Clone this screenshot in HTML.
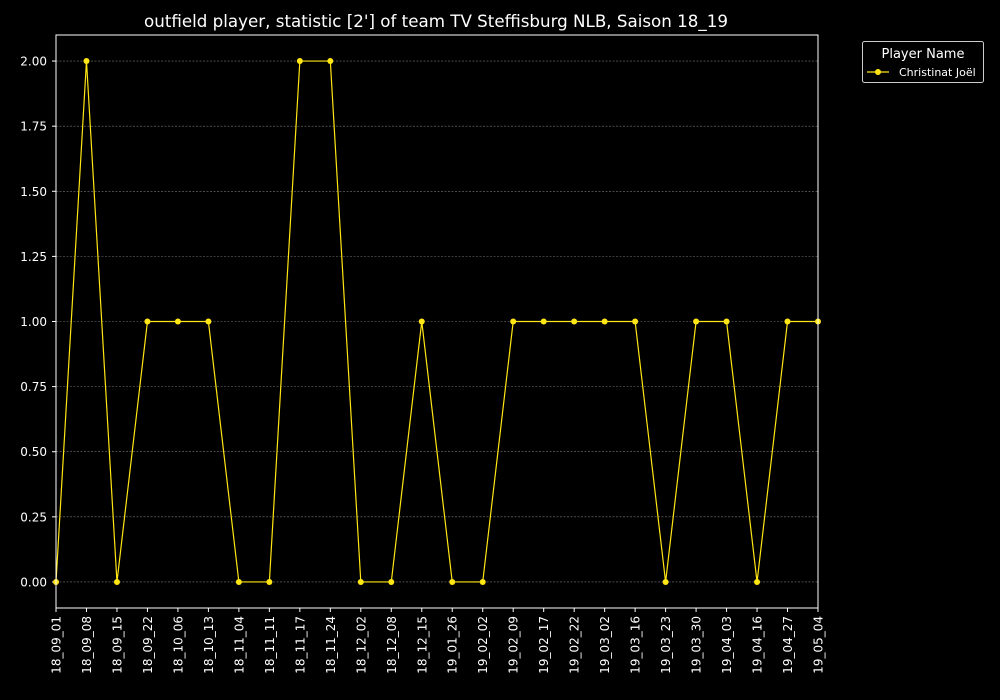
<!DOCTYPE html>
<html><head><meta charset="utf-8"><style>
html,body{margin:0;padding:0;background:#000;}
svg{display:block;font-family:"DejaVu Sans","Liberation Sans",sans-serif;}
</style></head><body>
<svg id="chart" width="1000" height="700">
<rect width="1000" height="700" fill="#000"/>
<text x="436" y="27" fill="#fff" font-size="16.7" text-anchor="middle">outfield player, statistic [2'] of team TV Steffisburg NLB, Saison 18_19</text>
<g id="grid"></g>
<g id="axes"></g>
<g id="series"></g>
<rect x="56" y="35" width="762" height="573" fill="none" stroke="#fff" stroke-width="1"/>
<g>
<rect x="862.5" y="41.5" width="121" height="41" rx="2" fill="#000" stroke="#ccc"/>
<text x="923" y="58" fill="#fff" font-size="13" text-anchor="middle">Player Name</text>
<line x1="867" y1="72" x2="889" y2="72" stroke="#ffe614" stroke-width="1.2"/>
<circle cx="878" cy="72" r="3" fill="#ffe614"/>
<text x="899" y="76" fill="#fff" font-size="11">Christinat Joël</text>
</g>
</svg>
<script>
const categories=["18_09_01","18_09_08","18_09_15","18_09_22","18_10_06","18_10_13","18_11_04","18_11_11","18_11_17","18_11_24","18_12_02","18_12_08","18_12_15","19_01_26","19_02_02","19_02_09","19_02_17","19_02_22","19_03_02","19_03_16","19_03_23","19_03_30","19_04_03","19_04_16","19_04_27","19_05_04"];
const values=[0,2,0,1,1,1,0,0,2,2,0,0,1,0,0,1,1,1,1,1,0,1,1,0,1,1];
const yTicks=[0,0.25,0.5,0.75,1,1.25,1.5,1.75,2];
const yTickLabels=["0.00","0.25","0.50","0.75","1.00","1.25","1.50","1.75","2.00"];
const NS="http://www.w3.org/2000/svg";
const L=56,R=818,T=35,B=608,ymin=-0.1,ymax=2.1;
const x=i=>L+(R-L)*i/(categories.length-1);
const y=v=>B-(v-ymin)/(ymax-ymin)*(B-T);
function mk(tag,attrs,parent){const e=document.createElementNS(NS,tag);for(const k in attrs)e.setAttribute(k,attrs[k]);parent.appendChild(e);return e;}
const grid=document.getElementById('grid'),axes=document.getElementById('axes'),series=document.getElementById('series');
yTicks.forEach((t,i)=>{
 const g=mk('line',{x1:L,x2:R,y1:y(t),y2:y(t),stroke:'#777','stroke-width':0.6,'stroke-dasharray':'2,1.5'},grid);
 
 
 mk('line',{x1:L-4,x2:L,y1:y(t),y2:y(t),stroke:'#fff'},axes);
 const tx=mk('text',{x:L-9,y:y(t)+4.5,fill:'#fff','font-size':12,'text-anchor':'end'},axes);
 tx.textContent=yTickLabels[i];
 
 
});
categories.forEach((c,i)=>{
 mk('line',{x1:x(i),x2:x(i),y1:B,y2:B+4,stroke:'#fff'},axes);
 const tx=mk('text',{x:0,y:0,fill:'#fff','font-size':12,'text-anchor':'end',transform:`translate(${x(i)+4.5},${B+8}) rotate(-90)`},axes);
 tx.textContent=c;
 
 
});
const pl=mk('polyline',{points:values.map((v,i)=>x(i)+','+y(v)).join(' '),fill:'none',stroke:'#ffe614','stroke-width':1.2},series);


values.forEach((v,i)=>{
 const c=mk('circle',{cx:x(i),cy:y(v),r:3,fill:'#ffe614'},series);
 
 
});
</script>
</body></html>
